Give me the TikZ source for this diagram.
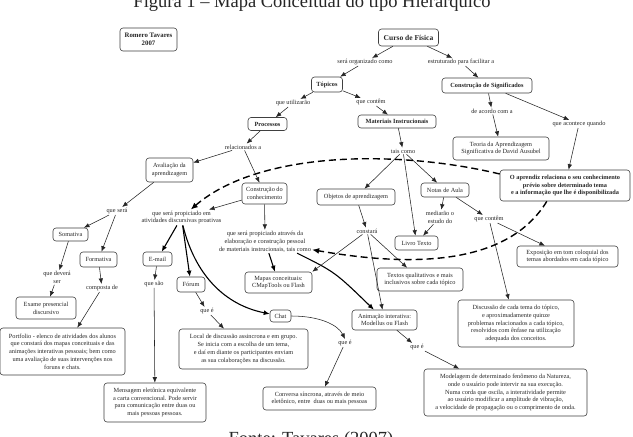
\documentclass[tikz,border=0pt]{standalone}
\usepackage{fontspec}
\setmainfont{Liberation Serif}
\usetikzlibrary{arrows.meta}
\newcommand\fs{\fontsize{6.3}{7.8}\selectfont}
\begin{document}
\begin{tikzpicture}[x=1pt,y=-1pt,
 bx/.style={draw=black!75,line width=0.6pt,rounded corners=3pt,fill=white,align=center,font=\fs,inner sep=0pt,text=black!85},
 bbx/.style={bx,font=\fs\bfseries},
 lb/.style={align=center,font=\fs,inner sep=1pt,text=black!85},
 ar/.style={draw=black!85,line width=0.55pt,-{Latex[length=5.5pt,width=4.5pt]}},
 tar/.style={draw=black,line width=1.1pt,-{Latex[length=6pt,width=5pt]}},
 dar/.style={draw=black,line width=1.4pt,dash pattern=on 7pt off 4pt,-{Latex[length=7pt,width=6pt]}},
 bigtext/.style={anchor=base,font=\fontsize{18.5}{20}\selectfont,inner sep=0pt,text=black!85},
]
\useasboundingbox (0,0) rectangle (633,437);
\clip (0,0) rectangle (633,437);
\fill[white] (0,0) rectangle (633,437);

% titles
\node[bigtext] (title) at (312,7.5) {Figura 1 – Mapa Conceitual do tipo Hierárquico};
\node[bigtext] (fonte) at (311,444) {Fonte: Tavares (2007)};

% boxes
\node[bbx,font=\fontsize{6.8}{8}\selectfont\bfseries,minimum width=57pt,minimum height=23pt] (romero) at (148.5,39.5) {Romero Tavares\\2007};
\node[bbx,font=\fontsize{7.5}{9}\selectfont\bfseries,minimum width=60pt,minimum height=17pt] (curso) at (408.5,37.5) {Curso de Física};
\node[bbx,minimum width=31pt,minimum height=15pt] (topicos) at (327,84.5) {Tópicos};
\node[bbx,minimum width=90pt,minimum height=15pt] (constrsig) at (487,85.5) {Construção de Significados};
\node[bbx,minimum width=39pt,minimum height=13pt] (processos) at (267.5,124) {Processos};
\node[bbx,minimum width=78pt,minimum height=13pt] (materiais) at (397,121.5) {Materiais Instrucionais};
\node[bx,minimum width=96pt,minimum height=23pt] (teoria) at (501,148.5) {Teoria da Aprendizagem\\Significativa de David Ausubel};
\node[bx,minimum width=47pt,minimum height=24pt] (avaliacao) at (169.5,170) {Avaliação da\\aprendizagem};
\node[bbx,minimum width=130pt,minimum height=31pt] (aprendiz) at (565,185.5) {O aprendiz relaciona o seu conhecimento\\prévio sobre determinado tema\\e a informação que lhe é disponibilizada};
\node[bx,minimum width=45pt,minimum height=21pt] (constrcon) at (264.5,193.5) {Construção do\\conhecimento};
\node[bx,minimum width=78pt,minimum height=16pt] (objetos) at (356,197) {Objetos de aprendizagem};
\node[bx,minimum width=48pt,minimum height=14pt] (notas) at (445,190) {Notas de Aula};
\node[bx,minimum width=35pt,minimum height=13pt] (somativa) at (70.5,234.5) {Somativa};
\node[bx,minimum width=43pt,minimum height=14pt] (livro) at (416.5,243) {Livro Texto};
\node[bx,minimum width=101pt,minimum height=21pt] (exposicao) at (567.5,256.5) {Exposição em tom coloquial dos\\temas abordados em cada tópico};
\node[bx,minimum width=37pt,minimum height=15pt] (formativa) at (98.5,259.5) {Formativa};
\node[bx,minimum width=29pt,minimum height=14pt] (email) at (157.5,259) {E-mail};
\node[bx,minimum width=67pt,minimum height=21pt] (mapas) at (278.5,282.5) {Mapas conceituais:\\CMapTools ou Flash};
\node[bx,minimum width=86pt,minimum height=23pt] (textos) at (420,279.5) {Textos qualitativos e mais\\inclusivos sobre cada tópico};
\node[bx,minimum width=28pt,minimum height=15pt] (forum) at (191,284.5) {Fórum};
\node[bx,minimum width=60pt,minimum height=22pt] (exame) at (46,308) {Exame presencial\\discursivo};
\node[bx,minimum width=21pt,minimum height=12pt] (chat) at (280.5,316) {Chat};
\node[bx,minimum width=65pt,minimum height=20pt] (animacao) at (384.5,320) {Animação interativa:\\Modellus ou Flash};
\node[bx,minimum width=129pt,minimum height=40pt] (local) at (243.5,349) {Local de discussão assincrona e em grupo.\\Se inicia com a escolha de um tema,\\e daí em diante os participantes enviam\\as sua colaborações na discussão.};
\node[bx,minimum width=125pt,minimum height=47pt] (portfolio) at (62.5,351.5) {Portfolio - elenco de atividades dos alunos\\que constará dos mapas conceituais e das\\animações interativas pessoais; bem como\\uma avaliação de suas intervenções nos\\foruns e chats.};
\node[bx,minimum width=116pt,minimum height=47pt] (discussao) at (516,323.5) {Discussão de cada tema do tópico,\\e aproximadamente quinze\\problemas relacionados a cada tópico,\\resolvidos com ênfase na utilização\\adequada dos conceitos.};
\node[bx,minimum width=163pt,minimum height=47pt] (modelagem) at (505.5,392.5) {Modelagem de determinado fenômeno da Natureza,\\onde o usuário pode intervir na sua execução.\\Numa corda que oscila, a interatividade permite\\ao usuário modificar a amplitude de vibração,\\a velocidade de propagação ou o comprimento de onda.};
\node[bx,minimum width=102pt,minimum height=39pt] (mensagem) at (155,402.5) {Mensagem eletônica equivalente\\a carta convencional. Pode servir\\para comunicação entre duas ou\\mais pessoas pessoas.};
\node[bx,minimum width=113pt,minimum height=23pt] (conversa) at (319.5,398.5) {Conversa síncrona, através de meio\\eletônico, entre\ \ duas ou mais pessoas};

% labels
\node[lb] (lorg) at (365,62) {será organizado como};
\node[lb] (lestr) at (461,62) {estruturado para facilitar a};
\node[lb] (lutil) at (293,103) {que utilizarão};
\node[lb] (lcontemA) at (371,102) {que contêm};
\node[lb] (lacordo) at (492,111) {de acordo com a};
\node[lb] (lacontece) at (579,124) {que acontece quando};
\node[lb] (lrel) at (243,147) {relacionados a};
\node[lb] (ltais) at (403,151) {tais como};
\node[lb] (lseraem) at (181.5,217.5) {que será propiciado em\\atividades discursivas proativas};
\node[lb] (lmediarao) at (440,217) {mediarão o\\estudo do};
\node[lb] (lcontemB) at (489,219) {que contêm};
\node[lb] (lsera) at (117,211) {que será};
\node[lb] (latraves) at (265,241.5) {que será propiciado através da\\elaboração e construção pessoal\\de materiais instrucionais, tais como};
\node[lb] (lconstara) at (367,231) {constará};
\node[lb] (ldevera) at (57,277.5) {que deverá\\ser};
\node[lb] (lcomposta) at (102,288) {composta de};
\node[lb] (lsao) at (154,284) {que são};
\node[lb] (lqueeA) at (207,311) {que é};
\node[lb] (lqueeB) at (345,343) {que é};
\node[lb] (lqueeC) at (417,347) {que é};

% connectors
\draw[ar] (curso) -- (lorg);
\draw[ar] (curso) -- (lestr);
\draw[ar] (lorg) -- (topicos);
\draw[ar] (lestr) -- (constrsig);
\draw[ar] (topicos) -- (lutil);
\draw[ar] (topicos) -- (lcontemA);
\draw[ar] (lutil) -- (processos);
\draw[ar] (lcontemA) -- (materiais);
\draw[ar] (constrsig) -- (lacordo);
\draw[ar] (constrsig) -- (lacontece);
\draw[ar] (lacordo) -- (teoria);
\draw[ar] (lacontece) -- (aprendiz);
\draw[ar] (processos) -- (lrel);
\draw[ar] (materiais) -- (ltais);
\draw[ar] (lrel) -- (avaliacao);
\draw[ar] (lrel) -- (constrcon);
\draw[ar] (ltais) -- (objetos);
\draw[ar] (ltais) -- (livro);
\draw[ar] (ltais) -- (notas);
\draw[ar] (avaliacao) -- (lsera);
\draw[ar] (constrcon) -- (lseraem);
\draw[ar] (constrcon) -- (latraves);
\draw[ar] (objetos) -- (lconstara);
\draw[ar] (notas) -- (lmediarao);
\draw[ar] (notas) -- (lcontemB);
\draw[ar] (lmediarao) -- (livro);
\draw[ar] (lcontemB) -- (exposicao);
\draw[ar] (lcontemB) -- (discussao.107);
\draw[ar] (lsera) -- (somativa);
\draw[ar] (lsera) -- (formativa);
\draw[ar] (somativa) -- (ldevera);
\draw[ar] (ldevera) -- (exame);
\draw[ar] (formativa) -- (lcomposta);
\draw[ar] (lcomposta) -- (portfolio);
\draw[tar] (lseraem) -- (email);
\draw[tar] (lseraem) -- (forum);
\draw[tar] (lseraem.-80) .. controls (195,275) and (225,305) .. (chat);
\draw[tar] (latraves) -- (mapas);
\draw[tar] (latraves.-20) .. controls (335,272) .. (animacao);
\draw[ar] (lconstara) -- (mapas.north east);
\draw[ar] (lconstara) -- (textos);
\draw[ar] (lconstara) -- (animacao);
\draw[ar] (email) -- (lsao);
\draw[ar] (lsao) -- (mensagem);
\draw[ar] (forum) -- (lqueeA);
\draw[ar] (lqueeA) -- (local);
\draw[ar] (chat.east) .. controls (320,316) and (338,325) .. (lqueeB.north);
\draw[ar] (lqueeB) -- (conversa);
\draw[ar] (animacao) -- (lqueeC);
\draw[ar] (lqueeC) -- (modelagem);
\draw[dar] (aprendiz.170) .. controls (400,150) and (260,150) .. (lseraem);
\draw[dar] (aprendiz.221) .. controls (505,270) and (400,265) .. (latraves);
\end{tikzpicture}
\end{document}
